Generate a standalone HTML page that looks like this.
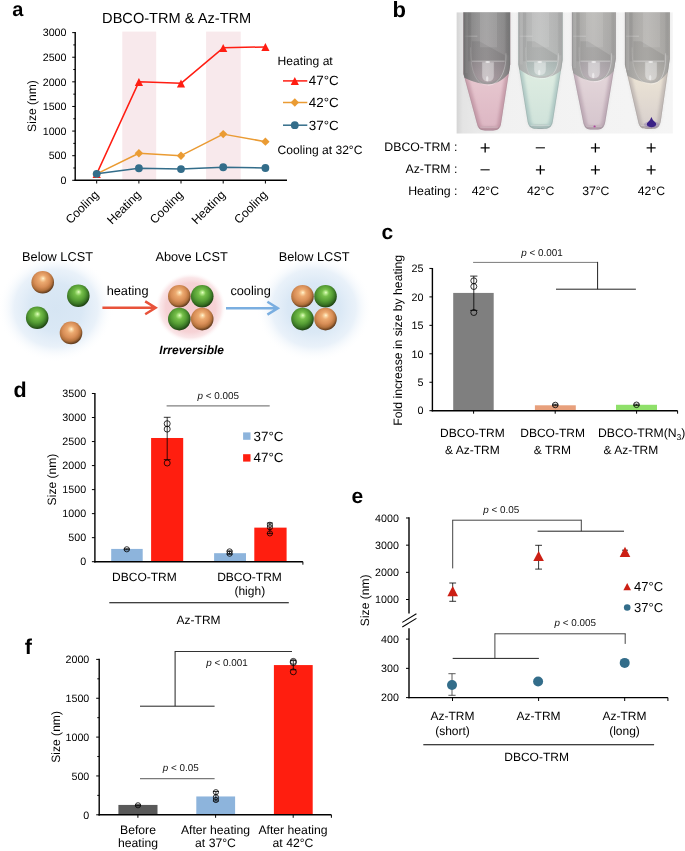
<!DOCTYPE html>
<html lang="en"><head><meta charset="utf-8"><title>Figure</title>
<style>html,body{margin:0;padding:0;background:#fff}svg{display:block;font-family:"Liberation Sans", Arial, sans-serif;text-rendering:geometricPrecision;will-change:transform}</style></head>
<body>
<svg width="685" height="851" viewBox="0 0 685 851">
<rect width="685" height="851" fill="#fff"/>
<text x="12.20" y="16.40" font-size="20" text-anchor="start" font-weight="bold" font-style="normal" fill="#000" >a</text>
<text x="176.70" y="23.20" font-size="14.6" text-anchor="middle" font-weight="normal" font-style="normal" fill="#000" >DBCO-TRM &amp; Az-TRM</text>
<rect x="122.30" y="31.60" width="33.90" height="148.20" fill="#f8e9ec" />
<rect x="206.10" y="31.60" width="34.60" height="148.20" fill="#f8e9ec" />
<line x1="75.20" y1="31.90" x2="75.20" y2="181.00" stroke="#000" stroke-width="1.4" />
<line x1="74.50" y1="180.30" x2="287.00" y2="180.30" stroke="#000" stroke-width="1.4" />
<line x1="72.20" y1="180.30" x2="75.20" y2="180.30" stroke="#000" stroke-width="1.0" />
<text x="66.50" y="184.00" font-size="10.7" text-anchor="end" font-weight="normal" font-style="normal" fill="#000" >0</text>
<line x1="73.30" y1="167.99" x2="75.20" y2="167.99" stroke="#000" stroke-width="1.0" />
<line x1="72.20" y1="155.69" x2="75.20" y2="155.69" stroke="#000" stroke-width="1.0" />
<text x="66.50" y="159.38" font-size="10.7" text-anchor="end" font-weight="normal" font-style="normal" fill="#000" >500</text>
<line x1="73.30" y1="143.38" x2="75.20" y2="143.38" stroke="#000" stroke-width="1.0" />
<line x1="72.20" y1="131.07" x2="75.20" y2="131.07" stroke="#000" stroke-width="1.0" />
<text x="66.50" y="134.77" font-size="10.7" text-anchor="end" font-weight="normal" font-style="normal" fill="#000" >1000</text>
<line x1="73.30" y1="118.76" x2="75.20" y2="118.76" stroke="#000" stroke-width="1.0" />
<line x1="72.20" y1="106.46" x2="75.20" y2="106.46" stroke="#000" stroke-width="1.0" />
<text x="66.50" y="110.16" font-size="10.7" text-anchor="end" font-weight="normal" font-style="normal" fill="#000" >1500</text>
<line x1="73.30" y1="94.15" x2="75.20" y2="94.15" stroke="#000" stroke-width="1.0" />
<line x1="72.20" y1="81.84" x2="75.20" y2="81.84" stroke="#000" stroke-width="1.0" />
<text x="66.50" y="85.54" font-size="10.7" text-anchor="end" font-weight="normal" font-style="normal" fill="#000" >2000</text>
<line x1="73.30" y1="69.53" x2="75.20" y2="69.53" stroke="#000" stroke-width="1.0" />
<line x1="72.20" y1="57.23" x2="75.20" y2="57.23" stroke="#000" stroke-width="1.0" />
<text x="66.50" y="60.93" font-size="10.7" text-anchor="end" font-weight="normal" font-style="normal" fill="#000" >2500</text>
<line x1="73.30" y1="44.92" x2="75.20" y2="44.92" stroke="#000" stroke-width="1.0" />
<line x1="72.20" y1="32.61" x2="75.20" y2="32.61" stroke="#000" stroke-width="1.0" />
<text x="66.50" y="36.31" font-size="10.7" text-anchor="end" font-weight="normal" font-style="normal" fill="#000" >3000</text>
<line x1="96.70" y1="180.30" x2="96.70" y2="183.50" stroke="#000" stroke-width="1.0" />
<line x1="138.90" y1="180.30" x2="138.90" y2="183.50" stroke="#000" stroke-width="1.0" />
<line x1="181.00" y1="180.30" x2="181.00" y2="183.50" stroke="#000" stroke-width="1.0" />
<line x1="223.20" y1="180.30" x2="223.20" y2="183.50" stroke="#000" stroke-width="1.0" />
<line x1="265.40" y1="180.30" x2="265.40" y2="183.50" stroke="#000" stroke-width="1.0" />
<text transform="translate(36.2,106) rotate(-90)" font-size="12.1" text-anchor="middle">Size (nm)</text>
<text transform="translate(99.4,195.6) rotate(-45)" font-size="12.1" text-anchor="end">Cooling</text>
<text transform="translate(141.6,195.6) rotate(-45)" font-size="12.1" text-anchor="end">Heating</text>
<text transform="translate(183.7,195.6) rotate(-45)" font-size="12.1" text-anchor="end">Cooling</text>
<text transform="translate(225.9,195.6) rotate(-45)" font-size="12.1" text-anchor="end">Heating</text>
<text transform="translate(268.1,195.6) rotate(-45)" font-size="12.1" text-anchor="end">Cooling</text>
<polyline points="96.70,173.90 138.90,81.84 181.00,83.32 223.20,47.87 265.40,46.89" fill="none" stroke="#ff1d12" stroke-width="1.5" stroke-linejoin="round"/>
<polygon points="96.70,170.10 92.60,178.10 100.80,178.10" fill="#ff1d12"/>
<polygon points="138.90,78.04 134.80,86.04 143.00,86.04" fill="#ff1d12"/>
<polygon points="181.00,79.52 176.90,87.52 185.10,87.52" fill="#ff1d12"/>
<polygon points="223.20,44.07 219.10,52.07 227.30,52.07" fill="#ff1d12"/>
<polygon points="265.40,43.09 261.30,51.09 269.50,51.09" fill="#ff1d12"/>
<polyline points="96.70,173.90 138.90,153.22 181.00,155.69 223.20,134.12 265.40,141.65" fill="none" stroke="#ea9b33" stroke-width="1.5" stroke-linejoin="round"/>
<polygon points="96.70,169.70 100.90,173.90 96.70,178.10 92.50,173.90" fill="#ea9b33"/>
<polygon points="138.90,149.02 143.10,153.22 138.90,157.42 134.70,153.22" fill="#ea9b33"/>
<polygon points="181.00,151.49 185.20,155.69 181.00,159.88 176.80,155.69" fill="#ea9b33"/>
<polygon points="223.20,129.92 227.40,134.12 223.20,138.32 219.00,134.12" fill="#ea9b33"/>
<polygon points="265.40,137.45 269.60,141.65 265.40,145.85 261.20,141.65" fill="#ea9b33"/>
<polyline points="96.70,173.80 138.90,168.24 181.00,169.03 223.20,167.25 265.40,167.99" fill="none" stroke="#336d8a" stroke-width="1.5" stroke-linejoin="round"/>
<circle cx="96.70" cy="173.80" r="3.9" fill="#336d8a" stroke="none" stroke-width="0" />
<circle cx="138.90" cy="168.24" r="3.9" fill="#336d8a" stroke="none" stroke-width="0" />
<circle cx="181.00" cy="169.03" r="3.9" fill="#336d8a" stroke="none" stroke-width="0" />
<circle cx="223.20" cy="167.25" r="3.9" fill="#336d8a" stroke="none" stroke-width="0" />
<circle cx="265.40" cy="167.99" r="3.9" fill="#336d8a" stroke="none" stroke-width="0" />
<text x="277.60" y="64.90" font-size="12.1" text-anchor="start" font-weight="normal" font-style="normal" fill="#000" >Heating at</text>
<line x1="283.00" y1="80.90" x2="307.30" y2="80.90" stroke="#ff1d12" stroke-width="1.5" />
<polygon points="294.80,77.10 290.70,85.10 298.90,85.10" fill="#ff1d12"/>
<text x="308.80" y="85.30" font-size="13.4" text-anchor="start" font-weight="normal" font-style="normal" fill="#000" >47°C</text>
<line x1="283.00" y1="102.50" x2="307.30" y2="102.50" stroke="#ea9b33" stroke-width="1.5" />
<polygon points="294.80,98.30 299.00,102.50 294.80,106.70 290.60,102.50" fill="#ea9b33"/>
<text x="308.80" y="106.90" font-size="13.4" text-anchor="start" font-weight="normal" font-style="normal" fill="#000" >42°C</text>
<line x1="283.00" y1="125.20" x2="307.30" y2="125.20" stroke="#336d8a" stroke-width="1.5" />
<circle cx="294.80" cy="125.20" r="3.9" fill="#336d8a" stroke="none" stroke-width="0" />
<text x="308.80" y="129.60" font-size="13.4" text-anchor="start" font-weight="normal" font-style="normal" fill="#000" >37°C</text>
<text x="277.60" y="153.80" font-size="12.1" text-anchor="start" font-weight="normal" font-style="normal" fill="#000" >Cooling at 32°C</text>
<defs>
<radialGradient id="gb" cx="50%" cy="50%" r="50%"><stop offset="0" stop-color="#d6e5f3" stop-opacity="1"/><stop offset="0.45" stop-color="#dae8f5" stop-opacity="1"/><stop offset="0.72" stop-color="#e4eef8" stop-opacity="0.8"/><stop offset="1" stop-color="#ffffff" stop-opacity="0"/></radialGradient>
<radialGradient id="gp" cx="50%" cy="50%" r="50%"><stop offset="0" stop-color="#f5ccd0" stop-opacity="1"/><stop offset="0.7" stop-color="#f6d2d5" stop-opacity="1"/><stop offset="0.86" stop-color="#f8dcdf" stop-opacity="0.7"/><stop offset="1" stop-color="#ffffff" stop-opacity="0"/></radialGradient>
<radialGradient id="so" cx="44%" cy="41%" r="59%" fx="52%" fy="33%"><stop offset="0" stop-color="#fffbd6"/><stop offset="0.09" stop-color="#fbd8a8"/><stop offset="0.27" stop-color="#ecaa70"/><stop offset="0.58" stop-color="#d88e57"/><stop offset="0.8" stop-color="#b4723d"/><stop offset="1" stop-color="#5e3a1c"/></radialGradient>
<radialGradient id="sg" cx="44%" cy="41%" r="59%" fx="52%" fy="33%"><stop offset="0" stop-color="#ecffca"/><stop offset="0.09" stop-color="#b9ec90"/><stop offset="0.27" stop-color="#76bf4a"/><stop offset="0.58" stop-color="#559d34"/><stop offset="0.8" stop-color="#3a7625"/><stop offset="1" stop-color="#1e4212"/></radialGradient>
</defs>
<ellipse cx="56" cy="308" rx="58" ry="54" fill="url(#gb)"/>
<ellipse cx="190.6" cy="307.6" rx="35.5" ry="35" fill="url(#gp)"/>
<ellipse cx="314" cy="308" rx="58" ry="54" fill="url(#gb)"/>
<circle cx="42.7" cy="282.2" r="11.3" fill="url(#so)"/>
<circle cx="78.3" cy="295.7" r="11.3" fill="url(#sg)"/>
<circle cx="37.2" cy="317.8" r="11.3" fill="url(#sg)"/>
<circle cx="71" cy="332.9" r="11.3" fill="url(#so)"/>
<circle cx="179.3" cy="296.3" r="11.3" fill="url(#so)"/>
<circle cx="202.2" cy="296.3" r="11.3" fill="url(#sg)"/>
<circle cx="179.3" cy="319.1" r="11.3" fill="url(#sg)"/>
<circle cx="202.2" cy="319.1" r="11.3" fill="url(#so)"/>
<circle cx="302.5" cy="296.3" r="11.3" fill="url(#so)"/>
<circle cx="325.5" cy="296.3" r="11.3" fill="url(#sg)"/>
<circle cx="302.5" cy="319.1" r="11.3" fill="url(#sg)"/>
<circle cx="325.5" cy="319.1" r="11.3" fill="url(#so)"/>
<text x="22.10" y="260.70" font-size="12.75" text-anchor="start" font-weight="normal" font-style="normal" fill="#000" >Below LCST</text>
<text x="155.40" y="260.70" font-size="12.75" text-anchor="start" font-weight="normal" font-style="normal" fill="#000" >Above LCST</text>
<text x="278.70" y="260.70" font-size="12.75" text-anchor="start" font-weight="normal" font-style="normal" fill="#000" >Below LCST</text>
<text x="106.70" y="294.70" font-size="12.75" text-anchor="start" font-weight="normal" font-style="normal" fill="#000" >heating</text>
<text x="230.40" y="294.80" font-size="12.75" text-anchor="start" font-weight="normal" font-style="normal" fill="#000" >cooling</text>
<text x="159.30" y="354.10" font-size="12" text-anchor="start" font-weight="bold" font-style="italic" fill="#000" >Irreversible</text>
<path d="M102.4,307.8 L154.79999999999998,307.8 M145.2,301.40000000000003 L155.6,307.8 L145.2,314.2" fill="none" stroke="#e8523a" stroke-width="2.5" stroke-linejoin="miter"/>
<path d="M226,308.2 L277.0,308.2 M267.4,301.8 L277.79999999999995,308.2 L267.4,314.59999999999997" fill="none" stroke="#7aaee0" stroke-width="2.5" stroke-linejoin="miter"/>
<text x="392.50" y="16.50" font-size="22" text-anchor="start" font-weight="bold" font-style="normal" fill="#000" >b</text>
<defs>
<clipPath id="pc"><rect x="456.4" y="12.2" width="216.5" height="121.49999999999999"/></clipPath>
<filter id="bl" x="-5%" y="-5%" width="110%" height="110%"><feGaussianBlur stdDeviation="0.55"/></filter>
<filter id="bl2" x="-20%" y="-20%" width="140%" height="140%"><feGaussianBlur stdDeviation="1.4"/></filter>
<linearGradient id="pbg" x1="0" y1="0" x2="1" y2="0"><stop offset="0" stop-color="#d4d4d4"/><stop offset="0.03" stop-color="#e4e4e4"/><stop offset="0.2" stop-color="#f1f1f1"/><stop offset="1" stop-color="#f5f5f5"/></linearGradient>
<linearGradient id="tg0" x1="0" y1="0" x2="0" y2="1"><stop offset="0" stop-color="#909090"/><stop offset="1" stop-color="#969193"/></linearGradient>
<linearGradient id="tl0" x1="0" y1="0" x2="0" y2="1"><stop offset="0" stop-color="#e7c7cf"/><stop offset="0.55" stop-color="#e7c7cf"/><stop offset="1" stop-color="#dcb6c3"/></linearGradient>
<linearGradient id="tw0" x1="0" y1="0" x2="1" y2="0"><stop offset="0" stop-color="#6a6a6a" stop-opacity="0.9"/><stop offset="0.16" stop-color="#6a6a6a" stop-opacity="0.2"/><stop offset="0.5" stop-color="#ffffff" stop-opacity="0.10"/><stop offset="0.86" stop-color="#6a6a6a" stop-opacity="0.12"/><stop offset="1" stop-color="#6a6a6a" stop-opacity="0.7200000000000001"/></linearGradient>
<linearGradient id="tc0" x1="0" y1="0" x2="0" y2="1"><stop offset="0" stop-color="#91898d"/><stop offset="1" stop-color="#a4969c"/></linearGradient>
<clipPath id="tcp0"><path d="M463.4,10.2 L510.2,10.2 L510.2,64.5 L500.9,124.5 C499.7,129.6 496.4,130.6 491.04999999999995,130.6 L487.04999999999995,130.6 C481.7,130.6 478.4,129.6 477.2,124.5 L463.4,73.7 Z"/></clipPath>
<linearGradient id="tg1" x1="0" y1="0" x2="0" y2="1"><stop offset="0" stop-color="#b6b6b6"/><stop offset="1" stop-color="#b8bcba"/></linearGradient>
<linearGradient id="tl1" x1="0" y1="0" x2="0" y2="1"><stop offset="0" stop-color="#ddece1"/><stop offset="0.55" stop-color="#ddece1"/><stop offset="1" stop-color="#cfe2da"/></linearGradient>
<linearGradient id="tw1" x1="0" y1="0" x2="1" y2="0"><stop offset="0" stop-color="#9c9c9c" stop-opacity="0.5"/><stop offset="0.16" stop-color="#9c9c9c" stop-opacity="0.2"/><stop offset="0.5" stop-color="#ffffff" stop-opacity="0.10"/><stop offset="0.86" stop-color="#9c9c9c" stop-opacity="0.12"/><stop offset="1" stop-color="#9c9c9c" stop-opacity="0.4"/></linearGradient>
<linearGradient id="tc1" x1="0" y1="0" x2="0" y2="1"><stop offset="0" stop-color="#aab6b4"/><stop offset="1" stop-color="#bac8c4"/></linearGradient>
<clipPath id="tcp1"><path d="M518.4,10.2 L562.6,10.2 L562.6,60.0 L552.8,121.5 C551.5999999999999,127.9 548.3,128.9 542.2,128.9 L538.2,128.9 C532.1,128.9 528.8000000000001,127.9 527.6,121.5 L518.4,64.5 Z"/></clipPath>
<linearGradient id="tg2" x1="0" y1="0" x2="0" y2="1"><stop offset="0" stop-color="#b1b0ad"/><stop offset="1" stop-color="#acaaaa"/></linearGradient>
<linearGradient id="tl2" x1="0" y1="0" x2="0" y2="1"><stop offset="0" stop-color="#e3d5d9"/><stop offset="0.55" stop-color="#e3d5d9"/><stop offset="1" stop-color="#d5c5cd"/></linearGradient>
<linearGradient id="tw2" x1="0" y1="0" x2="1" y2="0"><stop offset="0" stop-color="#909090" stop-opacity="0.5"/><stop offset="0.16" stop-color="#909090" stop-opacity="0.2"/><stop offset="0.5" stop-color="#ffffff" stop-opacity="0.10"/><stop offset="0.86" stop-color="#909090" stop-opacity="0.12"/><stop offset="1" stop-color="#909090" stop-opacity="0.4"/></linearGradient>
<linearGradient id="tc2" x1="0" y1="0" x2="0" y2="1"><stop offset="0" stop-color="#a7a1a5"/><stop offset="1" stop-color="#b6acb2"/></linearGradient>
<clipPath id="tcp2"><path d="M571.9,10.2 L615.8,10.2 L615.8,58.4 L605.3,121.5 C604.0999999999999,128.6 600.8,129.6 596.2,129.6 L592.2,129.6 C587.6,129.6 584.3000000000001,128.6 583.1,121.5 L571.9,66.0 Z"/></clipPath>
<linearGradient id="tg3" x1="0" y1="0" x2="0" y2="1"><stop offset="0" stop-color="#acaaa7"/><stop offset="1" stop-color="#b0aeaa"/></linearGradient>
<linearGradient id="tl3" x1="0" y1="0" x2="0" y2="1"><stop offset="0" stop-color="#ece4d5"/><stop offset="0.55" stop-color="#ece4d5"/><stop offset="1" stop-color="#d7cfcd"/></linearGradient>
<linearGradient id="tw3" x1="0" y1="0" x2="1" y2="0"><stop offset="0" stop-color="#8a8a8a" stop-opacity="0.5"/><stop offset="0.16" stop-color="#8a8a8a" stop-opacity="0.2"/><stop offset="0.5" stop-color="#ffffff" stop-opacity="0.10"/><stop offset="0.86" stop-color="#8a8a8a" stop-opacity="0.12"/><stop offset="1" stop-color="#8a8a8a" stop-opacity="0.4"/></linearGradient>
<linearGradient id="tc3" x1="0" y1="0" x2="0" y2="1"><stop offset="0" stop-color="#a7a5a1"/><stop offset="1" stop-color="#b8b4ae"/></linearGradient>
<clipPath id="tcp3"><path d="M624.9,10.2 L669.8,10.2 L669.8,58.4 L660.9,120.5 C659.6999999999999,127.9 656.4,128.9 651.4,128.9 L647.4,128.9 C642.4,128.9 639.1,127.9 637.9,120.5 L624.9,64.5 Z"/></clipPath>
</defs>
<g clip-path="url(#pc)">
<rect x="456.4" y="12.2" width="216.5" height="121.49999999999999" fill="url(#pbg)"/>
<path d="M463.4,10.2 L510.2,10.2 L510.2,64.5 L500.9,124.5 C499.7,129.6 496.4,130.6 491.04999999999995,130.6 L487.04999999999995,130.6 C481.7,130.6 478.4,129.6 477.2,124.5 L463.4,73.7 Z" fill="#c4c4c4" opacity="0.32" filter="url(#bl2)"/>
<path d="M518.4,10.2 L562.6,10.2 L562.6,60.0 L552.8,121.5 C551.5999999999999,127.9 548.3,128.9 542.2,128.9 L538.2,128.9 C532.1,128.9 528.8000000000001,127.9 527.6,121.5 L518.4,64.5 Z" fill="#c4c4c4" opacity="0.32" filter="url(#bl2)"/>
<path d="M571.9,10.2 L615.8,10.2 L615.8,58.4 L605.3,121.5 C604.0999999999999,128.6 600.8,129.6 596.2,129.6 L592.2,129.6 C587.6,129.6 584.3000000000001,128.6 583.1,121.5 L571.9,66.0 Z" fill="#c4c4c4" opacity="0.32" filter="url(#bl2)"/>
<path d="M624.9,10.2 L669.8,10.2 L669.8,58.4 L660.9,120.5 C659.6999999999999,127.9 656.4,128.9 651.4,128.9 L647.4,128.9 C642.4,128.9 639.1,127.9 637.9,120.5 L624.9,64.5 Z" fill="#c4c4c4" opacity="0.32" filter="url(#bl2)"/>
<g filter="url(#bl)">
<path d="M463.4,10.2 L510.2,10.2 L510.2,64.5 L500.9,124.5 C499.7,129.6 496.4,130.6 491.04999999999995,130.6 L487.04999999999995,130.6 C481.7,130.6 478.4,129.6 477.2,124.5 L463.4,73.7 Z" fill="url(#tl0)"/>
<g clip-path="url(#tcp0)">
<path d="M463.4,10.2 L510.2,10.2 L510.2,64.5 L500.9,124.5 C499.7,129.6 496.4,130.6 491.04999999999995,130.6 L487.04999999999995,130.6 C481.7,130.6 478.4,129.6 477.2,124.5 L463.4,73.7 Z" fill="none" stroke="#b08090" stroke-opacity="0.55" stroke-width="7" filter="url(#bl2)"/>
<path d="M461.4,9.2 L512.2,9.2 L512.2,69.0 C507.2,77.0 497.0,84.8 488.0,84.3 C478.0,83.8 467.4,80.0 461.4,76.0 Z" fill="url(#tg0)"/>
<path d="M471.4,61.3 L505.2,61.3 C505.2,73.3 497.0,82.7 488.0,82.5 C479.0,82.7 471.4,74.3 471.4,61.3 Z" fill="url(#tc0)"/>
<path d="M471.9,60.3 L471.9,41.3 L479.4,41.3 L504.7,55.3 L504.7,60.3 Z" fill="#000000" opacity="0.085"/>
<rect x="480.0" y="12.2" width="17" height="35.099999999999994" fill="#ffffff" opacity="0.10"/>
<line x1="471.9" y1="61.3" x2="504.7" y2="61.3" stroke="#ffffff" stroke-opacity="0.38" stroke-width="0.9"/>
<path d="M482.2,62.3 L482.2,75.8 Q482.4,81.3 488.0,81.3 Q493.6,81.3 493.8,75.8 L493.8,62.3 Z" fill="#ffffff" opacity="0.42" stroke="#ffffff" stroke-opacity="0.3" stroke-width="0.7"/>
<ellipse cx="487.7" cy="61.9" rx="2.4" ry="1.0" fill="#ffffff" opacity="0.65"/>
<ellipse cx="487.2" cy="78.8" rx="1.2" ry="2.8" fill="#ffffff" opacity="0.5"/>
<path d="M506.0,53.3 C506.59999999999997,73.3 498.0,85.3 488.0,85.1" fill="none" stroke="#ffffff" stroke-opacity="0.45" stroke-width="0.9"/>
<path d="M470.59999999999997,47.3 C470.2,75.3 478.0,85.3 488.0,85.1" fill="none" stroke="#ffffff" stroke-opacity="0.25" stroke-width="0.8"/>
<rect x="464.59999999999997" y="12.2" width="3.0" height="60.8" fill="#ffffff" opacity="0.14"/>
<rect x="468.0" y="12.2" width="3.2" height="49.099999999999994" fill="#000000" opacity="0.07"/>
<rect x="505.8" y="12.2" width="3.2" height="43.099999999999994" fill="#000000" opacity="0.05"/>
<line x1="464.4" y1="36.2" x2="477.4" y2="36.2" stroke="#ffffff" stroke-opacity="0.3" stroke-width="1"/>
<clipPath id="tgp0"><path d="M461.4,9.2 L512.2,9.2 L512.2,69.0 C507.2,77.0 497.0,84.8 488.0,84.3 C478.0,83.8 467.4,80.0 461.4,76.0 Z"/></clipPath>
<g clip-path="url(#tgp0)"><rect x="463.4" y="10.2" width="46.80000000000001" height="121.49999999999999" fill="url(#tw0)"/></g>
<path d="M463.4,10.2 L510.2,10.2 L510.2,64.5 L500.9,124.5 C499.7,129.6 496.4,130.6 491.04999999999995,130.6 L487.04999999999995,130.6 C481.7,130.6 478.4,129.6 477.2,124.5 L463.4,73.7 Z" fill="none" stroke="#77777c" stroke-opacity="0.2" stroke-width="1.6"/>
<ellipse cx="489.04999999999995" cy="129.1" rx="11.849999999999994" ry="3.2" fill="#6a5a66" opacity="0.12"/>
<line x1="480.2" y1="127.19999999999999" x2="497.9" y2="127.19999999999999" stroke="#ffffff" stroke-opacity="0.35" stroke-width="0.8"/>
</g>
<path d="M518.4,10.2 L562.6,10.2 L562.6,60.0 L552.8,121.5 C551.5999999999999,127.9 548.3,128.9 542.2,128.9 L538.2,128.9 C532.1,128.9 528.8000000000001,127.9 527.6,121.5 L518.4,64.5 Z" fill="url(#tl1)"/>
<g clip-path="url(#tcp1)">
<path d="M518.4,10.2 L562.6,10.2 L562.6,60.0 L552.8,121.5 C551.5999999999999,127.9 548.3,128.9 542.2,128.9 L538.2,128.9 C532.1,128.9 528.8000000000001,127.9 527.6,121.5 L518.4,64.5 Z" fill="none" stroke="#90b0b0" stroke-opacity="0.55" stroke-width="7" filter="url(#bl2)"/>
<path d="M516.4,9.2 L564.6,9.2 L564.6,66.0 C559.6,74.0 549.0,78.5 540.0,78.0 C530.0,77.5 522.4,71.5 516.4,67.5 Z" fill="url(#tg1)"/>
<path d="M526.4,61.3 L557.6,61.3 C557.6,73.3 549.0,76.4 540.0,76.2 C531.0,76.4 526.4,74.3 526.4,61.3 Z" fill="url(#tc1)"/>
<path d="M526.9,60.3 L526.9,41.3 L534.4,41.3 L557.1,55.3 L557.1,60.3 Z" fill="#000000" opacity="0.085"/>
<rect x="532.0" y="12.2" width="17" height="35.099999999999994" fill="#ffffff" opacity="0.10"/>
<line x1="526.9" y1="61.3" x2="557.1" y2="61.3" stroke="#ffffff" stroke-opacity="0.38" stroke-width="0.9"/>
<path d="M534.2,62.3 L534.2,69.5 Q534.4,75.0 540.0,75.0 Q545.6,75.0 545.8,69.5 L545.8,62.3 Z" fill="#ffffff" opacity="0.42" stroke="#ffffff" stroke-opacity="0.3" stroke-width="0.7"/>
<ellipse cx="539.7" cy="61.9" rx="2.4" ry="1.0" fill="#ffffff" opacity="0.65"/>
<ellipse cx="539.2" cy="72.5" rx="1.2" ry="2.8" fill="#ffffff" opacity="0.5"/>
<path d="M558.4,53.3 C559.0,73.3 550.0,79.0 540.0,78.8" fill="none" stroke="#ffffff" stroke-opacity="0.45" stroke-width="0.9"/>
<path d="M525.6,47.3 C525.1999999999999,75.3 530.0,79.0 540.0,78.8" fill="none" stroke="#ffffff" stroke-opacity="0.25" stroke-width="0.8"/>
<rect x="519.6" y="12.2" width="3.0" height="52.3" fill="#ffffff" opacity="0.14"/>
<rect x="523.0" y="12.2" width="3.2" height="49.099999999999994" fill="#000000" opacity="0.07"/>
<rect x="558.2" y="12.2" width="3.2" height="43.099999999999994" fill="#000000" opacity="0.05"/>
<line x1="519.4" y1="36.2" x2="532.4" y2="36.2" stroke="#ffffff" stroke-opacity="0.3" stroke-width="1"/>
<clipPath id="tgp1"><path d="M516.4,9.2 L564.6,9.2 L564.6,66.0 C559.6,74.0 549.0,78.5 540.0,78.0 C530.0,77.5 522.4,71.5 516.4,67.5 Z"/></clipPath>
<g clip-path="url(#tgp1)"><rect x="518.4" y="10.2" width="44.200000000000045" height="121.49999999999999" fill="url(#tw1)"/></g>
<path d="M518.4,10.2 L562.6,10.2 L562.6,60.0 L552.8,121.5 C551.5999999999999,127.9 548.3,128.9 542.2,128.9 L538.2,128.9 C532.1,128.9 528.8000000000001,127.9 527.6,121.5 L518.4,64.5 Z" fill="none" stroke="#77777c" stroke-opacity="0.2" stroke-width="1.6"/>
<ellipse cx="540.2" cy="127.4" rx="12.599999999999966" ry="3.2" fill="#6a5a66" opacity="0.12"/>
<line x1="530.6" y1="125.5" x2="549.8" y2="125.5" stroke="#ffffff" stroke-opacity="0.35" stroke-width="0.8"/>
</g>
<path d="M571.9,10.2 L615.8,10.2 L615.8,58.4 L605.3,121.5 C604.0999999999999,128.6 600.8,129.6 596.2,129.6 L592.2,129.6 C587.6,129.6 584.3000000000001,128.6 583.1,121.5 L571.9,66.0 Z" fill="url(#tl2)"/>
<g clip-path="url(#tcp2)">
<path d="M571.9,10.2 L615.8,10.2 L615.8,58.4 L605.3,121.5 C604.0999999999999,128.6 600.8,129.6 596.2,129.6 L592.2,129.6 C587.6,129.6 584.3000000000001,128.6 583.1,121.5 L571.9,66.0 Z" fill="none" stroke="#a890a0" stroke-opacity="0.55" stroke-width="7" filter="url(#bl2)"/>
<path d="M569.9,9.2 L617.8,9.2 L617.8,66.0 C612.8,74.0 603.0,81.5 594.0,81.0 C584.0,80.5 575.9,75.0 569.9,71.0 Z" fill="url(#tg2)"/>
<path d="M579.9,61.3 L610.8,61.3 C610.8,73.3 603.0,79.4 594.0,79.2 C585.0,79.4 579.9,74.3 579.9,61.3 Z" fill="url(#tc2)"/>
<path d="M580.4,60.3 L580.4,41.3 L587.9,41.3 L610.3,55.3 L610.3,60.3 Z" fill="#000000" opacity="0.085"/>
<rect x="586.0" y="12.2" width="17" height="35.099999999999994" fill="#ffffff" opacity="0.10"/>
<line x1="580.4" y1="61.3" x2="610.3" y2="61.3" stroke="#ffffff" stroke-opacity="0.38" stroke-width="0.9"/>
<path d="M588.2,62.3 L588.2,72.5 Q588.4,78.0 594.0,78.0 Q599.6,78.0 599.8,72.5 L599.8,62.3 Z" fill="#ffffff" opacity="0.42" stroke="#ffffff" stroke-opacity="0.3" stroke-width="0.7"/>
<ellipse cx="593.7" cy="61.9" rx="2.4" ry="1.0" fill="#ffffff" opacity="0.65"/>
<ellipse cx="593.2" cy="75.5" rx="1.2" ry="2.8" fill="#ffffff" opacity="0.5"/>
<path d="M611.5999999999999,53.3 C612.1999999999999,73.3 604.0,82.0 594.0,81.8" fill="none" stroke="#ffffff" stroke-opacity="0.45" stroke-width="0.9"/>
<path d="M579.1,47.3 C578.6999999999999,75.3 584.0,82.0 594.0,81.8" fill="none" stroke="#ffffff" stroke-opacity="0.25" stroke-width="0.8"/>
<rect x="573.1" y="12.2" width="3.0" height="55.8" fill="#ffffff" opacity="0.14"/>
<rect x="576.5" y="12.2" width="3.2" height="49.099999999999994" fill="#000000" opacity="0.07"/>
<rect x="611.4" y="12.2" width="3.2" height="43.099999999999994" fill="#000000" opacity="0.05"/>
<line x1="572.9" y1="36.2" x2="585.9" y2="36.2" stroke="#ffffff" stroke-opacity="0.3" stroke-width="1"/>
<clipPath id="tgp2"><path d="M569.9,9.2 L617.8,9.2 L617.8,66.0 C612.8,74.0 603.0,81.5 594.0,81.0 C584.0,80.5 575.9,75.0 569.9,71.0 Z"/></clipPath>
<g clip-path="url(#tgp2)"><rect x="571.9" y="10.2" width="43.89999999999998" height="121.49999999999999" fill="url(#tw2)"/></g>
<path d="M571.9,10.2 L615.8,10.2 L615.8,58.4 L605.3,121.5 C604.0999999999999,128.6 600.8,129.6 596.2,129.6 L592.2,129.6 C587.6,129.6 584.3000000000001,128.6 583.1,121.5 L571.9,66.0 Z" fill="none" stroke="#77777c" stroke-opacity="0.2" stroke-width="1.6"/>
<ellipse cx="594.2" cy="128.1" rx="11.099999999999966" ry="3.2" fill="#6a5a66" opacity="0.12"/>
<line x1="586.1" y1="126.19999999999999" x2="602.3" y2="126.19999999999999" stroke="#ffffff" stroke-opacity="0.35" stroke-width="0.8"/>
</g>
<path d="M624.9,10.2 L669.8,10.2 L669.8,58.4 L660.9,120.5 C659.6999999999999,127.9 656.4,128.9 651.4,128.9 L647.4,128.9 C642.4,128.9 639.1,127.9 637.9,120.5 L624.9,64.5 Z" fill="url(#tl3)"/>
<g clip-path="url(#tcp3)">
<path d="M624.9,10.2 L669.8,10.2 L669.8,58.4 L660.9,120.5 C659.6999999999999,127.9 656.4,128.9 651.4,128.9 L647.4,128.9 C642.4,128.9 639.1,127.9 637.9,120.5 L624.9,64.5 Z" fill="none" stroke="#a8a0a0" stroke-opacity="0.55" stroke-width="7" filter="url(#bl2)"/>
<path d="M622.9,9.2 L671.8,9.2 L671.8,66.0 C666.8,74.0 660.0,83.7 651.0,83.2 C641.0,82.7 628.9,77.0 622.9,73.0 Z" fill="url(#tg3)"/>
<path d="M632.9,61.3 L664.8,61.3 C664.8,73.3 660.0,81.60000000000001 651.0,81.4 C642.0,81.60000000000001 632.9,74.3 632.9,61.3 Z" fill="url(#tc3)"/>
<path d="M633.4,60.3 L633.4,41.3 L640.9,41.3 L664.3,55.3 L664.3,60.3 Z" fill="#000000" opacity="0.085"/>
<rect x="643.0" y="12.2" width="17" height="35.099999999999994" fill="#ffffff" opacity="0.10"/>
<line x1="633.4" y1="61.3" x2="664.3" y2="61.3" stroke="#ffffff" stroke-opacity="0.38" stroke-width="0.9"/>
<path d="M645.2,62.3 L645.2,74.7 Q645.4,80.2 651.0,80.2 Q656.6,80.2 656.8,74.7 L656.8,62.3 Z" fill="#ffffff" opacity="0.42" stroke="#ffffff" stroke-opacity="0.3" stroke-width="0.7"/>
<ellipse cx="650.7" cy="61.9" rx="2.4" ry="1.0" fill="#ffffff" opacity="0.65"/>
<ellipse cx="650.2" cy="77.7" rx="1.2" ry="2.8" fill="#ffffff" opacity="0.5"/>
<path d="M665.5999999999999,53.3 C666.1999999999999,73.3 661.0,84.2 651.0,84.0" fill="none" stroke="#ffffff" stroke-opacity="0.45" stroke-width="0.9"/>
<path d="M632.1,47.3 C631.6999999999999,75.3 641.0,84.2 651.0,84.0" fill="none" stroke="#ffffff" stroke-opacity="0.25" stroke-width="0.8"/>
<rect x="626.1" y="12.2" width="3.0" height="57.8" fill="#ffffff" opacity="0.14"/>
<rect x="629.5" y="12.2" width="3.2" height="49.099999999999994" fill="#000000" opacity="0.07"/>
<rect x="665.4" y="12.2" width="3.2" height="43.099999999999994" fill="#000000" opacity="0.05"/>
<line x1="625.9" y1="36.2" x2="638.9" y2="36.2" stroke="#ffffff" stroke-opacity="0.3" stroke-width="1"/>
<clipPath id="tgp3"><path d="M622.9,9.2 L671.8,9.2 L671.8,66.0 C666.8,74.0 660.0,83.7 651.0,83.2 C641.0,82.7 628.9,77.0 622.9,73.0 Z"/></clipPath>
<g clip-path="url(#tgp3)"><rect x="624.9" y="10.2" width="44.89999999999998" height="121.49999999999999" fill="url(#tw3)"/></g>
<path d="M624.9,10.2 L669.8,10.2 L669.8,58.4 L660.9,120.5 C659.6999999999999,127.9 656.4,128.9 651.4,128.9 L647.4,128.9 C642.4,128.9 639.1,127.9 637.9,120.5 L624.9,64.5 Z" fill="none" stroke="#77777c" stroke-opacity="0.2" stroke-width="1.6"/>
<ellipse cx="649.4" cy="127.4" rx="11.5" ry="3.2" fill="#6a5a66" opacity="0.12"/>
<line x1="640.9" y1="125.5" x2="657.9" y2="125.5" stroke="#ffffff" stroke-opacity="0.35" stroke-width="0.8"/>
</g>
<ellipse cx="594.6" cy="126.4" rx="1.1" ry="0.9" fill="#b040a0"/>
<ellipse cx="651.6" cy="124.6" rx="7.6" ry="3.4" fill="#8068b0" opacity="0.35"/>
<path d="M651.4,117.0 Q652.4,120.6 655.9,123.0 Q657.4,126.5 651.6,127.3 Q645.8,126.7 647.0,123.2 Q650.4,120.8 651.4,117.0 Z" fill="#3b2186"/>
</g></g>
<text x="457.40" y="151.00" font-size="12.3" text-anchor="end" font-weight="normal" font-style="normal" fill="#000" >DBCO-TRM :</text>
<text x="457.40" y="173.00" font-size="12.3" text-anchor="end" font-weight="normal" font-style="normal" fill="#000" >Az-TRM :</text>
<text x="457.40" y="194.90" font-size="12.3" text-anchor="end" font-weight="normal" font-style="normal" fill="#000" >Heating :</text>
<text x="485.10" y="153.60" font-size="18.5" text-anchor="middle" font-weight="normal" font-style="normal" fill="#000" >+</text>
<text x="485.10" y="174.10" font-size="16.5" text-anchor="middle" font-weight="normal" font-style="normal" fill="#000" >–</text>
<text x="485.40" y="194.90" font-size="12.2" text-anchor="middle" font-weight="normal" font-style="normal" fill="#000" >42°C</text>
<text x="540.30" y="152.00" font-size="16.5" text-anchor="middle" font-weight="normal" font-style="normal" fill="#000" >–</text>
<text x="540.30" y="175.70" font-size="18.5" text-anchor="middle" font-weight="normal" font-style="normal" fill="#000" >+</text>
<text x="540.60" y="194.90" font-size="12.2" text-anchor="middle" font-weight="normal" font-style="normal" fill="#000" >42°C</text>
<text x="595.50" y="153.60" font-size="18.5" text-anchor="middle" font-weight="normal" font-style="normal" fill="#000" >+</text>
<text x="595.50" y="175.70" font-size="18.5" text-anchor="middle" font-weight="normal" font-style="normal" fill="#000" >+</text>
<text x="595.80" y="194.90" font-size="12.2" text-anchor="middle" font-weight="normal" font-style="normal" fill="#000" >37°C</text>
<text x="651.10" y="153.60" font-size="18.5" text-anchor="middle" font-weight="normal" font-style="normal" fill="#000" >+</text>
<text x="651.10" y="175.70" font-size="18.5" text-anchor="middle" font-weight="normal" font-style="normal" fill="#000" >+</text>
<text x="651.40" y="194.90" font-size="12.2" text-anchor="middle" font-weight="normal" font-style="normal" fill="#000" >42°C</text>
<text x="381.60" y="239.40" font-size="21" text-anchor="start" font-weight="bold" font-style="normal" fill="#000" >c</text>
<rect x="453.20" y="292.92" width="40.50" height="117.78" fill="#7f7f7f" />
<rect x="534.90" y="405.29" width="40.90" height="5.41" fill="#e8a07c" />
<rect x="616.00" y="404.78" width="41.00" height="5.92" fill="#8fe06a" />
<line x1="432.40" y1="268.00" x2="432.40" y2="411.40" stroke="#000" stroke-width="1.4" />
<line x1="431.70" y1="410.70" x2="677.60" y2="410.70" stroke="#000" stroke-width="1.4" />
<line x1="429.40" y1="410.70" x2="432.40" y2="410.70" stroke="#000" stroke-width="1.0" />
<text x="423.60" y="414.40" font-size="10.8" text-anchor="end" font-weight="normal" font-style="normal" fill="#000" >0</text>
<line x1="429.40" y1="382.25" x2="432.40" y2="382.25" stroke="#000" stroke-width="1.0" />
<text x="423.60" y="385.95" font-size="10.8" text-anchor="end" font-weight="normal" font-style="normal" fill="#000" >5</text>
<line x1="429.40" y1="353.80" x2="432.40" y2="353.80" stroke="#000" stroke-width="1.0" />
<text x="423.60" y="357.50" font-size="10.8" text-anchor="end" font-weight="normal" font-style="normal" fill="#000" >10</text>
<line x1="429.40" y1="325.35" x2="432.40" y2="325.35" stroke="#000" stroke-width="1.0" />
<text x="423.60" y="329.05" font-size="10.8" text-anchor="end" font-weight="normal" font-style="normal" fill="#000" >15</text>
<line x1="429.40" y1="296.90" x2="432.40" y2="296.90" stroke="#000" stroke-width="1.0" />
<text x="423.60" y="300.60" font-size="10.8" text-anchor="end" font-weight="normal" font-style="normal" fill="#000" >20</text>
<line x1="429.40" y1="268.45" x2="432.40" y2="268.45" stroke="#000" stroke-width="1.0" />
<text x="423.60" y="272.15" font-size="10.8" text-anchor="end" font-weight="normal" font-style="normal" fill="#000" >25</text>
<line x1="473.60" y1="410.70" x2="473.60" y2="413.70" stroke="#000" stroke-width="1.0" />
<line x1="555.20" y1="410.70" x2="555.20" y2="413.70" stroke="#000" stroke-width="1.0" />
<line x1="636.60" y1="410.70" x2="636.60" y2="413.70" stroke="#000" stroke-width="1.0" />
<line x1="677.60" y1="410.70" x2="677.60" y2="413.70" stroke="#000" stroke-width="1.0" />
<text transform="translate(401.6,340.3) rotate(-90)" font-size="12.2" text-anchor="middle">Fold increase in size by heating</text>
<line x1="473.80" y1="276.10" x2="473.80" y2="310.40" stroke="#000" stroke-width="0.8" />
<line x1="470.20" y1="276.10" x2="477.40" y2="276.10" stroke="#000" stroke-width="0.8" />
<line x1="470.20" y1="310.40" x2="477.40" y2="310.40" stroke="#000" stroke-width="0.8" />
<circle cx="473.80" cy="280.80" r="3.0" fill="none" stroke="#000" stroke-width="0.8" />
<circle cx="473.80" cy="286.50" r="3.0" fill="none" stroke="#000" stroke-width="0.8" />
<circle cx="473.80" cy="312.50" r="3.0" fill="none" stroke="#000" stroke-width="0.8" />
<line x1="555.30" y1="404.30" x2="555.30" y2="405.70" stroke="#000" stroke-width="0.8" />
<line x1="552.30" y1="404.30" x2="558.30" y2="404.30" stroke="#000" stroke-width="0.8" />
<line x1="552.30" y1="405.70" x2="558.30" y2="405.70" stroke="#000" stroke-width="0.8" />
<circle cx="555.30" cy="405.00" r="2.8" fill="none" stroke="#000" stroke-width="0.8" />
<line x1="636.50" y1="404.20" x2="636.50" y2="405.40" stroke="#000" stroke-width="0.8" />
<line x1="633.50" y1="404.20" x2="639.50" y2="404.20" stroke="#000" stroke-width="0.8" />
<line x1="633.50" y1="405.40" x2="639.50" y2="405.40" stroke="#000" stroke-width="0.8" />
<circle cx="636.50" cy="404.80" r="2.8" fill="none" stroke="#000" stroke-width="0.8" />
<line x1="473.10" y1="262.40" x2="597.60" y2="262.40" stroke="#7a7a7a" stroke-width="1.0" />
<line x1="597.60" y1="261.90" x2="597.60" y2="289.20" stroke="#222" stroke-width="1.0" />
<line x1="556.00" y1="289.20" x2="635.90" y2="289.20" stroke="#222" stroke-width="1.0" />
<text x="521.30" y="255.50" font-size="9.9" fill="#111"><tspan font-style="italic">p</tspan> &lt; 0.001</text>
<text x="472.40" y="437.20" font-size="12" text-anchor="middle" font-weight="normal" font-style="normal" fill="#000" >DBCO-TRM</text>
<text x="472.40" y="453.50" font-size="12" text-anchor="middle" font-weight="normal" font-style="normal" fill="#000" >&amp; Az-TRM</text>
<text x="552.60" y="437.20" font-size="12" text-anchor="middle" font-weight="normal" font-style="normal" fill="#000" >DBCO-TRM</text>
<text x="552.40" y="453.50" font-size="12" text-anchor="middle" font-weight="normal" font-style="normal" fill="#000" >&amp; TRM</text>
<text x="598.0" y="437.2" font-size="12.2">DBCO-TRM(N<tspan font-size="8.6" dy="2.6">3</tspan><tspan dy="-2.6">)</tspan></text>
<text x="630.80" y="453.50" font-size="12" text-anchor="middle" font-weight="normal" font-style="normal" fill="#000" >&amp; Az-TRM</text>
<text x="13.40" y="397.20" font-size="21.5" text-anchor="start" font-weight="bold" font-style="normal" fill="#000" >d</text>
<rect x="111.20" y="548.92" width="31.50" height="12.78" fill="#8db4dc" />
<rect x="151.10" y="437.99" width="32.10" height="123.71" fill="#ff1e0f" />
<rect x="214.10" y="553.19" width="31.90" height="8.51" fill="#8db4dc" />
<rect x="254.30" y="527.63" width="32.30" height="34.07" fill="#ff1e0f" />
<line x1="94.90" y1="393.00" x2="94.90" y2="562.40" stroke="#000" stroke-width="1.4" />
<line x1="94.20" y1="561.70" x2="302.90" y2="561.70" stroke="#000" stroke-width="1.4" />
<line x1="91.90" y1="561.70" x2="94.90" y2="561.70" stroke="#000" stroke-width="1.0" />
<text x="86.10" y="565.40" font-size="10.7" text-anchor="end" font-weight="normal" font-style="normal" fill="#000" >0</text>
<line x1="91.90" y1="537.67" x2="94.90" y2="537.67" stroke="#000" stroke-width="1.0" />
<text x="86.10" y="541.37" font-size="10.7" text-anchor="end" font-weight="normal" font-style="normal" fill="#000" >500</text>
<line x1="91.90" y1="513.64" x2="94.90" y2="513.64" stroke="#000" stroke-width="1.0" />
<text x="86.10" y="517.34" font-size="10.7" text-anchor="end" font-weight="normal" font-style="normal" fill="#000" >1000</text>
<line x1="91.90" y1="489.61" x2="94.90" y2="489.61" stroke="#000" stroke-width="1.0" />
<text x="86.10" y="493.31" font-size="10.7" text-anchor="end" font-weight="normal" font-style="normal" fill="#000" >1500</text>
<line x1="91.90" y1="465.58" x2="94.90" y2="465.58" stroke="#000" stroke-width="1.0" />
<text x="86.10" y="469.28" font-size="10.7" text-anchor="end" font-weight="normal" font-style="normal" fill="#000" >2000</text>
<line x1="91.90" y1="441.55" x2="94.90" y2="441.55" stroke="#000" stroke-width="1.0" />
<text x="86.10" y="445.25" font-size="10.7" text-anchor="end" font-weight="normal" font-style="normal" fill="#000" >2500</text>
<line x1="91.90" y1="417.52" x2="94.90" y2="417.52" stroke="#000" stroke-width="1.0" />
<text x="86.10" y="421.22" font-size="10.7" text-anchor="end" font-weight="normal" font-style="normal" fill="#000" >3000</text>
<line x1="91.90" y1="393.49" x2="94.90" y2="393.49" stroke="#000" stroke-width="1.0" />
<text x="86.10" y="397.19" font-size="10.7" text-anchor="end" font-weight="normal" font-style="normal" fill="#000" >3500</text>
<line x1="302.90" y1="561.70" x2="302.90" y2="564.70" stroke="#000" stroke-width="1.0" />
<text transform="translate(55.8,479.5) rotate(-90)" font-size="12.1" text-anchor="middle">Size (nm)</text>
<line x1="167.20" y1="417.30" x2="167.20" y2="459.60" stroke="#000" stroke-width="0.8" />
<line x1="163.80" y1="417.30" x2="170.60" y2="417.30" stroke="#000" stroke-width="0.8" />
<line x1="163.80" y1="459.60" x2="170.60" y2="459.60" stroke="#000" stroke-width="0.8" />
<circle cx="167.20" cy="423.70" r="3.0" fill="none" stroke="#000" stroke-width="0.8" />
<circle cx="167.20" cy="429.10" r="3.0" fill="none" stroke="#000" stroke-width="0.8" />
<circle cx="167.20" cy="463.00" r="3.0" fill="none" stroke="#000" stroke-width="0.8" />
<line x1="126.80" y1="548.80" x2="126.80" y2="549.80" stroke="#000" stroke-width="0.8" />
<line x1="123.80" y1="548.80" x2="129.80" y2="548.80" stroke="#000" stroke-width="0.8" />
<line x1="123.80" y1="549.80" x2="129.80" y2="549.80" stroke="#000" stroke-width="0.8" />
<circle cx="126.80" cy="549.30" r="2.6" fill="none" stroke="#000" stroke-width="0.8" />
<line x1="229.60" y1="551.00" x2="229.60" y2="554.20" stroke="#000" stroke-width="0.8" />
<line x1="226.60" y1="551.00" x2="232.60" y2="551.00" stroke="#000" stroke-width="0.8" />
<line x1="226.60" y1="554.20" x2="232.60" y2="554.20" stroke="#000" stroke-width="0.8" />
<circle cx="229.60" cy="551.40" r="2.6" fill="none" stroke="#000" stroke-width="0.8" />
<circle cx="229.60" cy="553.70" r="2.6" fill="none" stroke="#000" stroke-width="0.8" />
<line x1="269.90" y1="523.00" x2="269.90" y2="533.60" stroke="#000" stroke-width="0.8" />
<line x1="266.90" y1="523.00" x2="272.90" y2="523.00" stroke="#000" stroke-width="0.8" />
<line x1="266.90" y1="533.60" x2="272.90" y2="533.60" stroke="#000" stroke-width="0.8" />
<circle cx="269.90" cy="524.80" r="2.6" fill="none" stroke="#000" stroke-width="0.8" />
<circle cx="269.90" cy="527.20" r="2.6" fill="none" stroke="#000" stroke-width="0.8" />
<circle cx="269.90" cy="533.40" r="2.6" fill="none" stroke="#000" stroke-width="0.8" />
<line x1="166.60" y1="405.90" x2="269.70" y2="405.90" stroke="#808080" stroke-width="1.1" />
<text x="197.60" y="399.20" font-size="9.9" fill="#111"><tspan font-style="italic">p</tspan> &lt; 0.005</text>
<rect x="243.10" y="432.40" width="7.40" height="7.40" fill="#8db4dc" />
<text x="253.50" y="440.60" font-size="13.4" text-anchor="start" font-weight="normal" font-style="normal" fill="#000" >37°C</text>
<rect x="243.10" y="454.20" width="7.40" height="7.40" fill="#ff1e0f" />
<text x="253.50" y="462.30" font-size="13.4" text-anchor="start" font-weight="normal" font-style="normal" fill="#000" >47°C</text>
<text x="144.40" y="580.80" font-size="12" text-anchor="middle" font-weight="normal" font-style="normal" fill="#000" >DBCO-TRM</text>
<text x="249.50" y="580.80" font-size="12" text-anchor="middle" font-weight="normal" font-style="normal" fill="#000" >DBCO-TRM</text>
<text x="249.80" y="594.60" font-size="12" text-anchor="middle" font-weight="normal" font-style="normal" fill="#000" >(high)</text>
<line x1="109.30" y1="602.80" x2="288.80" y2="602.80" stroke="#000" stroke-width="1.1" />
<text x="198.60" y="624.10" font-size="12" text-anchor="middle" font-weight="normal" font-style="normal" fill="#000" >Az-TRM</text>
<text x="351.40" y="503.20" font-size="21" text-anchor="start" font-weight="bold" font-style="normal" fill="#000" >e</text>
<line x1="409.00" y1="517.20" x2="409.00" y2="613.50" stroke="#000" stroke-width="1.4" />
<line x1="409.00" y1="628.30" x2="409.00" y2="698.30" stroke="#000" stroke-width="1.4" />
<line x1="408.30" y1="697.60" x2="667.90" y2="697.60" stroke="#000" stroke-width="1.4" />
<line x1="406.00" y1="599.50" x2="409.00" y2="599.50" stroke="#000" stroke-width="1.0" />
<text x="398.90" y="603.20" font-size="10.7" text-anchor="end" font-weight="normal" font-style="normal" fill="#000" >1000</text>
<line x1="406.00" y1="572.33" x2="409.00" y2="572.33" stroke="#000" stroke-width="1.0" />
<text x="398.90" y="576.03" font-size="10.7" text-anchor="end" font-weight="normal" font-style="normal" fill="#000" >2000</text>
<line x1="406.00" y1="545.16" x2="409.00" y2="545.16" stroke="#000" stroke-width="1.0" />
<text x="398.90" y="548.86" font-size="10.7" text-anchor="end" font-weight="normal" font-style="normal" fill="#000" >3000</text>
<line x1="406.00" y1="517.99" x2="409.00" y2="517.99" stroke="#000" stroke-width="1.0" />
<text x="398.90" y="521.69" font-size="10.7" text-anchor="end" font-weight="normal" font-style="normal" fill="#000" >4000</text>
<line x1="406.00" y1="697.60" x2="409.00" y2="697.60" stroke="#000" stroke-width="1.0" />
<text x="398.90" y="701.30" font-size="10.7" text-anchor="end" font-weight="normal" font-style="normal" fill="#000" >200</text>
<line x1="406.00" y1="668.35" x2="409.00" y2="668.35" stroke="#000" stroke-width="1.0" />
<text x="398.90" y="672.05" font-size="10.7" text-anchor="end" font-weight="normal" font-style="normal" fill="#000" >300</text>
<line x1="406.00" y1="639.10" x2="409.00" y2="639.10" stroke="#000" stroke-width="1.0" />
<text x="398.90" y="642.80" font-size="10.7" text-anchor="end" font-weight="normal" font-style="normal" fill="#000" >400</text>
<line x1="452.50" y1="697.60" x2="452.50" y2="701.00" stroke="#000" stroke-width="1.0" />
<line x1="538.60" y1="697.60" x2="538.60" y2="701.00" stroke="#000" stroke-width="1.0" />
<line x1="624.70" y1="697.60" x2="624.70" y2="701.00" stroke="#000" stroke-width="1.0" />
<line x1="667.90" y1="697.60" x2="667.90" y2="701.00" stroke="#000" stroke-width="1.0" />
<line x1="402.30" y1="622.40" x2="416.40" y2="613.80" stroke="#000" stroke-width="1.1" />
<line x1="402.30" y1="627.00" x2="416.40" y2="618.40" stroke="#000" stroke-width="1.1" />
<text transform="translate(368.9,600.3) rotate(-90)" font-size="12.1" text-anchor="middle">Size (nm)</text>
<line x1="452.70" y1="583.00" x2="452.70" y2="601.30" stroke="#000" stroke-width="0.8" />
<line x1="449.30" y1="583.00" x2="456.10" y2="583.00" stroke="#000" stroke-width="0.8" />
<line x1="449.30" y1="601.30" x2="456.10" y2="601.30" stroke="#000" stroke-width="0.8" />
<polygon points="452.70,586.08 447.40,596.28 458.00,596.28" fill="#cc1f14"/>
<line x1="538.60" y1="545.30" x2="538.60" y2="569.10" stroke="#000" stroke-width="0.8" />
<line x1="535.20" y1="545.30" x2="542.00" y2="545.30" stroke="#000" stroke-width="0.8" />
<line x1="535.20" y1="569.10" x2="542.00" y2="569.10" stroke="#000" stroke-width="0.8" />
<polygon points="538.60,550.88 533.30,561.08 543.90,561.08" fill="#cc1f14"/>
<line x1="625.00" y1="550.20" x2="625.00" y2="555.40" stroke="#000" stroke-width="0.8" />
<line x1="622.00" y1="550.20" x2="628.00" y2="550.20" stroke="#000" stroke-width="0.8" />
<line x1="622.00" y1="555.40" x2="628.00" y2="555.40" stroke="#000" stroke-width="0.8" />
<polygon points="625.00,546.68 619.70,556.88 630.30,556.88" fill="#cc1f14"/>
<line x1="452.00" y1="673.70" x2="452.00" y2="695.30" stroke="#333" stroke-width="0.8" />
<line x1="448.40" y1="673.70" x2="455.60" y2="673.70" stroke="#333" stroke-width="0.8" />
<line x1="448.40" y1="695.30" x2="455.60" y2="695.30" stroke="#333" stroke-width="0.8" />
<circle cx="452.00" cy="685.00" r="5.0" fill="#336d8a" stroke="none" stroke-width="0" />
<circle cx="538.10" cy="681.50" r="5.0" fill="#336d8a" stroke="none" stroke-width="0" />
<circle cx="624.70" cy="662.90" r="5.0" fill="#336d8a" stroke="none" stroke-width="0" />
<line x1="452.70" y1="568.40" x2="452.70" y2="520.20" stroke="#444" stroke-width="1.0" />
<line x1="452.20" y1="520.20" x2="581.30" y2="520.20" stroke="#444" stroke-width="1.0" />
<line x1="581.30" y1="519.70" x2="581.30" y2="531.20" stroke="#444" stroke-width="1.0" />
<line x1="537.60" y1="531.20" x2="624.00" y2="531.20" stroke="#222" stroke-width="1.0" />
<text x="483.20" y="512.60" font-size="9.9" fill="#111"><tspan font-style="italic">p</tspan> &lt; 0.05</text>
<line x1="625.20" y1="643.90" x2="625.20" y2="633.80" stroke="#444" stroke-width="1.0" />
<line x1="494.90" y1="633.80" x2="625.70" y2="633.80" stroke="#444" stroke-width="1.0" />
<line x1="494.90" y1="633.30" x2="494.90" y2="658.40" stroke="#444" stroke-width="1.0" />
<line x1="452.70" y1="658.40" x2="538.90" y2="658.40" stroke="#222" stroke-width="1.0" />
<text x="554.50" y="626.40" font-size="9.9" fill="#111"><tspan font-style="italic">p</tspan> &lt; 0.005</text>
<polygon points="627.20,582.96 623.40,590.36 631.00,590.36" fill="#cc1f14"/>
<text x="634.00" y="591.30" font-size="13" text-anchor="start" font-weight="normal" font-style="normal" fill="#000" >47°C</text>
<circle cx="627.20" cy="607.50" r="3.3" fill="#336d8a" stroke="none" stroke-width="0" />
<text x="634.00" y="611.70" font-size="13" text-anchor="start" font-weight="normal" font-style="normal" fill="#000" >37°C</text>
<text x="452.50" y="720.40" font-size="12" text-anchor="middle" font-weight="normal" font-style="normal" fill="#000" >Az-TRM</text>
<text x="452.50" y="735.30" font-size="12" text-anchor="middle" font-weight="normal" font-style="normal" fill="#000" >(short)</text>
<text x="538.60" y="720.40" font-size="12" text-anchor="middle" font-weight="normal" font-style="normal" fill="#000" >Az-TRM</text>
<text x="624.50" y="720.40" font-size="12" text-anchor="middle" font-weight="normal" font-style="normal" fill="#000" >Az-TRM</text>
<text x="624.50" y="735.30" font-size="12" text-anchor="middle" font-weight="normal" font-style="normal" fill="#000" >(long)</text>
<line x1="423.30" y1="744.80" x2="654.10" y2="744.80" stroke="#000" stroke-width="1.1" />
<text x="536.60" y="761.40" font-size="12" text-anchor="middle" font-weight="normal" font-style="normal" fill="#000" >DBCO-TRM</text>
<text x="24.80" y="654.40" font-size="21.5" text-anchor="start" font-weight="bold" font-style="normal" fill="#000" >f</text>
<rect x="118.40" y="804.93" width="39.10" height="9.87" fill="#595959" />
<rect x="196.30" y="796.46" width="38.80" height="18.34" fill="#8db4dc" />
<rect x="273.90" y="665.07" width="38.80" height="149.73" fill="#ff1e0f" />
<line x1="99.20" y1="658.80" x2="99.20" y2="815.50" stroke="#000" stroke-width="1.4" />
<line x1="98.50" y1="814.80" x2="331.40" y2="814.80" stroke="#000" stroke-width="1.4" />
<line x1="96.20" y1="814.80" x2="99.20" y2="814.80" stroke="#000" stroke-width="1.0" />
<text x="89.30" y="818.50" font-size="10.7" text-anchor="end" font-weight="normal" font-style="normal" fill="#000" >0</text>
<line x1="97.30" y1="795.38" x2="99.20" y2="795.38" stroke="#000" stroke-width="1.0" />
<line x1="96.20" y1="775.95" x2="99.20" y2="775.95" stroke="#000" stroke-width="1.0" />
<text x="89.30" y="779.65" font-size="10.7" text-anchor="end" font-weight="normal" font-style="normal" fill="#000" >500</text>
<line x1="97.30" y1="756.52" x2="99.20" y2="756.52" stroke="#000" stroke-width="1.0" />
<line x1="96.20" y1="737.10" x2="99.20" y2="737.10" stroke="#000" stroke-width="1.0" />
<text x="89.30" y="740.80" font-size="10.7" text-anchor="end" font-weight="normal" font-style="normal" fill="#000" >1000</text>
<line x1="97.30" y1="717.67" x2="99.20" y2="717.67" stroke="#000" stroke-width="1.0" />
<line x1="96.20" y1="698.25" x2="99.20" y2="698.25" stroke="#000" stroke-width="1.0" />
<text x="89.30" y="701.95" font-size="10.7" text-anchor="end" font-weight="normal" font-style="normal" fill="#000" >1500</text>
<line x1="97.30" y1="678.82" x2="99.20" y2="678.82" stroke="#000" stroke-width="1.0" />
<line x1="96.20" y1="659.40" x2="99.20" y2="659.40" stroke="#000" stroke-width="1.0" />
<text x="89.30" y="663.10" font-size="10.7" text-anchor="end" font-weight="normal" font-style="normal" fill="#000" >2000</text>
<line x1="137.90" y1="814.80" x2="137.90" y2="817.80" stroke="#000" stroke-width="1.0" />
<line x1="215.60" y1="814.80" x2="215.60" y2="817.80" stroke="#000" stroke-width="1.0" />
<line x1="293.20" y1="814.80" x2="293.20" y2="817.80" stroke="#000" stroke-width="1.0" />
<line x1="331.40" y1="814.80" x2="331.40" y2="817.80" stroke="#000" stroke-width="1.0" />
<text transform="translate(59.5,736.9) rotate(-90)" font-size="12.1" text-anchor="middle">Size (nm)</text>
<line x1="138.00" y1="804.80" x2="138.00" y2="805.80" stroke="#000" stroke-width="0.8" />
<line x1="135.00" y1="804.80" x2="141.00" y2="804.80" stroke="#000" stroke-width="0.8" />
<line x1="135.00" y1="805.80" x2="141.00" y2="805.80" stroke="#000" stroke-width="0.8" />
<circle cx="138.00" cy="805.30" r="2.6" fill="none" stroke="#000" stroke-width="0.8" />
<line x1="215.90" y1="791.50" x2="215.90" y2="801.00" stroke="#000" stroke-width="0.8" />
<line x1="212.90" y1="791.50" x2="218.90" y2="791.50" stroke="#000" stroke-width="0.8" />
<line x1="212.90" y1="801.00" x2="218.90" y2="801.00" stroke="#000" stroke-width="0.8" />
<circle cx="215.90" cy="792.20" r="2.6" fill="none" stroke="#000" stroke-width="0.8" />
<circle cx="215.90" cy="797.20" r="2.6" fill="none" stroke="#000" stroke-width="0.8" />
<circle cx="215.90" cy="800.00" r="2.6" fill="none" stroke="#000" stroke-width="0.8" />
<line x1="293.30" y1="660.60" x2="293.30" y2="669.80" stroke="#000" stroke-width="0.8" />
<line x1="290.30" y1="660.60" x2="296.30" y2="660.60" stroke="#000" stroke-width="0.8" />
<line x1="290.30" y1="669.80" x2="296.30" y2="669.80" stroke="#000" stroke-width="0.8" />
<circle cx="293.30" cy="661.40" r="3.0" fill="none" stroke="#000" stroke-width="0.8" />
<circle cx="293.30" cy="662.60" r="3.0" fill="none" stroke="#000" stroke-width="0.8" />
<circle cx="293.30" cy="671.80" r="3.0" fill="none" stroke="#000" stroke-width="0.8" />
<line x1="175.10" y1="651.50" x2="292.00" y2="651.50" stroke="#333" stroke-width="1.0" />
<line x1="175.10" y1="651.00" x2="175.10" y2="706.20" stroke="#222" stroke-width="1.0" />
<line x1="140.00" y1="706.20" x2="214.60" y2="706.20" stroke="#222" stroke-width="1.0" />
<text x="206.30" y="665.80" font-size="9.9" fill="#111"><tspan font-style="italic">p</tspan> &lt; 0.001</text>
<line x1="140.00" y1="778.60" x2="214.60" y2="778.60" stroke="#7a7a7a" stroke-width="1.1" />
<text x="162.70" y="770.90" font-size="9.9" fill="#111"><tspan font-style="italic">p</tspan> &lt; 0.05</text>
<text x="138.00" y="833.70" font-size="12.2" text-anchor="middle" font-weight="normal" font-style="normal" fill="#000" >Before</text>
<text x="138.00" y="846.60" font-size="12.2" text-anchor="middle" font-weight="normal" font-style="normal" fill="#000" >heating</text>
<text x="215.50" y="833.70" font-size="12.2" text-anchor="middle" font-weight="normal" font-style="normal" fill="#000" >After heating</text>
<text x="215.50" y="846.60" font-size="12.2" text-anchor="middle" font-weight="normal" font-style="normal" fill="#000" >at 37°C</text>
<text x="293.00" y="833.70" font-size="12.2" text-anchor="middle" font-weight="normal" font-style="normal" fill="#000" >After heating</text>
<text x="293.00" y="846.60" font-size="12.2" text-anchor="middle" font-weight="normal" font-style="normal" fill="#000" >at 42°C</text>
</svg>
</body></html>
